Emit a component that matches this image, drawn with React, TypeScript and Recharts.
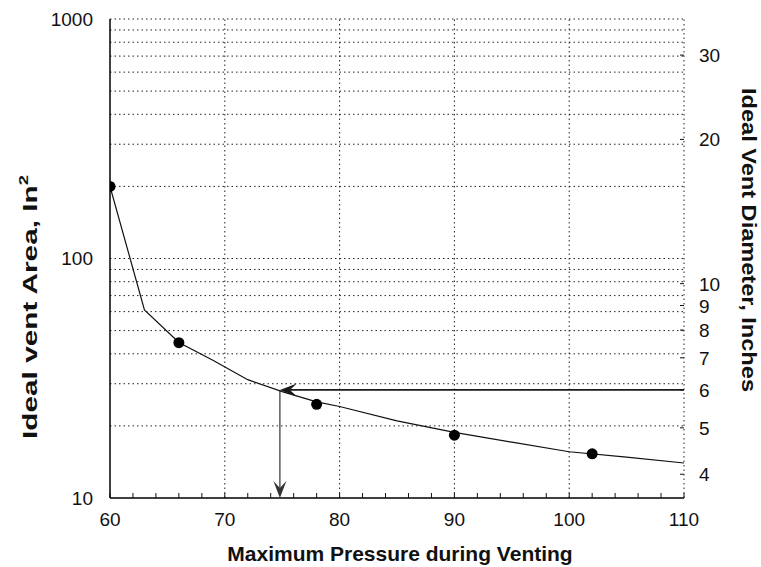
import React from "react";
import { ComposedChart, Line, Scatter, XAxis, YAxis, ReferenceLine } from "recharts";

// fitted curve: max pressure vs ideal vent area (in^2)
const curvePressure = [60, 63, 66, 69, 72, 75, 78, 80, 85, 90, 95, 100, 105, 110];
const curveArea = [200, 61, 44.6, 37.5, 31.2, 27.8, 25.2, 24.1, 21.0, 18.8, 17.1, 15.6, 14.8, 14.0];

// measured points
const pointPressure = [60, 66, 78, 90, 102];
const pointArea = [200, 44.5, 24.6, 18.3, 15.3];

const xMajorTicks = [60, 70, 80, 90, 100, 110];
const xMinorTicks = [62, 64, 66, 68, 72, 74, 76, 78, 82, 84, 86, 88, 92, 94, 96, 98, 102, 104, 106, 108];
const areaTicks = [10, 100, 1000];
const areaGrid = [20, 30, 40, 50, 60, 70, 80, 90, 100, 200, 300, 400, 500, 600, 700, 800, 900];
const pressureGrid = [70, 80, 90, 100];
const diameterTicks = [4, 5, 6, 7, 8, 9, 10, 20, 30];

// worked example
const readDiameter = 6;
const readPressure = 74.8;

const FONT = "'Liberation Sans', Arial, Helvetica, sans-serif";
const INK = "#111";
const TICK_FS = 19;

const areaOf = (d: number) => (Math.PI * d * d) / 4;

const curveData = curvePressure.map((p, i) => ({ p, area: curveArea[i] }));
const pointData = pointPressure.map((p, i) => ({ p, area: pointArea[i] }));
const diameterAreaTicks = diameterTicks.map(areaOf);

const PressureTick = (props: any) => {
  const { x, y, payload } = props;
  const major = xMajorTicks.includes(payload.value);
  return (
    <g>
      <line x1={x} x2={x} y1={y} y2={y - 5} stroke={INK} strokeWidth={1} />
      {major && (
        <text x={x} y={y + 28} textAnchor="middle" fontSize={TICK_FS} fontFamily={FONT} fill={INK}>
          {payload.value}
        </text>
      )}
    </g>
  );
};

const DiameterTick = (props: any) => {
  const { x, y, payload } = props;
  const d = Math.round(Math.sqrt((payload.value * 4) / Math.PI));
  return (
    <g>
      <line x1={x - 15} x2={x - 19} y1={y} y2={y} stroke={INK} strokeWidth={1} />
      <text x={x} y={y + 7} textAnchor="start" fontSize={TICK_FS} fontFamily={FONT} fill={INK}>
        {d}
      </text>
    </g>
  );
};

// line with a barbed arrow head at the second end point
const Arrow = (props: any) => {
  const { x1, y1, x2, y2, stroke, strokeWidth } = props;
  const ang = Math.atan2(y2 - y1, x2 - x1);
  const ux = Math.cos(ang);
  const uy = Math.sin(ang);
  const nx = -uy;
  const ny = ux;
  const L = 17;
  const W = 6.5;
  const N = 10;
  const head = [
    [x2, y2],
    [x2 - L * ux + W * nx, y2 - L * uy + W * ny],
    [x2 - N * ux, y2 - N * uy],
    [x2 - L * ux - W * nx, y2 - L * uy - W * ny],
  ]
    .map((q) => q.join(","))
    .join(" ");
  return (
    <g>
      <line x1={x1} y1={y1} x2={x2 - N * ux} y2={y2 - N * uy} stroke={stroke} strokeWidth={strokeWidth} />
      <polygon points={head} fill={stroke} />
    </g>
  );
};

const Dot = (props: any) => <circle cx={props.cx} cy={props.cy} r={5.5} fill="#000" />;

const dotted = { stroke: "#222", strokeDasharray: "1.5 3", strokeWidth: 1 };

export default function App() {
  const readArea = areaOf(readDiameter);
  return (
    <div style={{ position: "absolute", left: 0, top: 0, width: 761, height: 567, background: "#fff" }}>
      <ComposedChart width={761} height={567} margin={{ top: 19, right: 17, bottom: 29, left: 10 }}>
        <XAxis
          xAxisId="p"
          type="number"
          dataKey="p"
          domain={[60, 110]}
          ticks={[...xMajorTicks, ...xMinorTicks].sort((a, b) => a - b)}
          interval={0}
          tick={<PressureTick />}
          tickSize={0}
          tickMargin={0}
          height={40}
          axisLine={{ stroke: "#000", strokeWidth: 1.5 }}
          allowDataOverflow
        />
        <YAxis
          yAxisId="area"
          dataKey="area"
          scale="log"
          domain={[10, 1000]}
          ticks={areaTicks}
          interval={0}
          width={100}
          tickSize={0}
          tickMargin={17}
          tick={{ fontSize: TICK_FS, fill: INK, fontFamily: FONT }}
          axisLine={{ stroke: "#000", strokeWidth: 1.5 }}
          allowDataOverflow
        />
        <YAxis
          yAxisId="dia"
          orientation="right"
          scale="log"
          domain={[10, 1000]}
          ticks={diameterAreaTicks}
          interval={0}
          width={60}
          tickSize={0}
          tickMargin={15}
          tick={<DiameterTick />}
          axisLine={false}
          allowDataOverflow
        />

        {areaGrid.map((v) => (
          <ReferenceLine key={"h" + v} xAxisId="p" yAxisId="area" y={v} {...dotted} />
        ))}
        {pressureGrid.map((v) => (
          <ReferenceLine key={"v" + v} xAxisId="p" yAxisId="area" x={v} {...dotted} />
        ))}
        <ReferenceLine xAxisId="p" yAxisId="area" y={1000} {...dotted} />
        <ReferenceLine xAxisId="p" yAxisId="area" x={110} {...dotted} />

        <ReferenceLine
          xAxisId="p"
          yAxisId="area"
          ifOverflow="visible"
          segment={[
            { x: 110, y: readArea },
            { x: readPressure, y: readArea },
          ]}
          stroke="#1a1a1a"
          strokeWidth={1.6}
          shape={Arrow}
        />
        <ReferenceLine
          xAxisId="p"
          yAxisId="area"
          ifOverflow="visible"
          segment={[
            { x: readPressure, y: readArea },
            { x: readPressure, y: 10 },
          ]}
          stroke="#333"
          strokeWidth={1.2}
          shape={Arrow}
        />

        <Line
          xAxisId="p"
          yAxisId="area"
          data={curveData}
          dataKey="area"
          type="linear"
          stroke={INK}
          strokeWidth={1.2}
          dot={false}
          isAnimationActive={false}
        />
        <Scatter
          xAxisId="p"
          yAxisId="area"
          data={pointData}
          dataKey="area"
          shape={Dot}
          isAnimationActive={false}
        />
      </ComposedChart>

      <svg
        width={761}
        height={567}
        style={{ position: "absolute", left: 0, top: 0, pointerEvents: "none" }}
        fontFamily={FONT}
        fontWeight="bold"
        fill={INK}
      >
        <text x={400} y={561} textAnchor="middle" fontSize={21}>
          Maximum Pressure during Venting
        </text>
        <text
          transform="translate(37 307) rotate(-90)"
          textAnchor="middle"
          fontSize={21}
          textLength={264}
          lengthAdjust="spacingAndGlyphs"
        >
          <tspan>Ideal vent Area, In</tspan>
          <tspan dy={-9} fontSize={13}>2</tspan>
        </text>
        <text
          transform="translate(742 240) rotate(90)"
          textAnchor="middle"
          fontSize={21}
          textLength={304}
          lengthAdjust="spacingAndGlyphs"
        >
          Ideal Vent Diameter, Inches
        </text>
      </svg>
    </div>
  );
}
